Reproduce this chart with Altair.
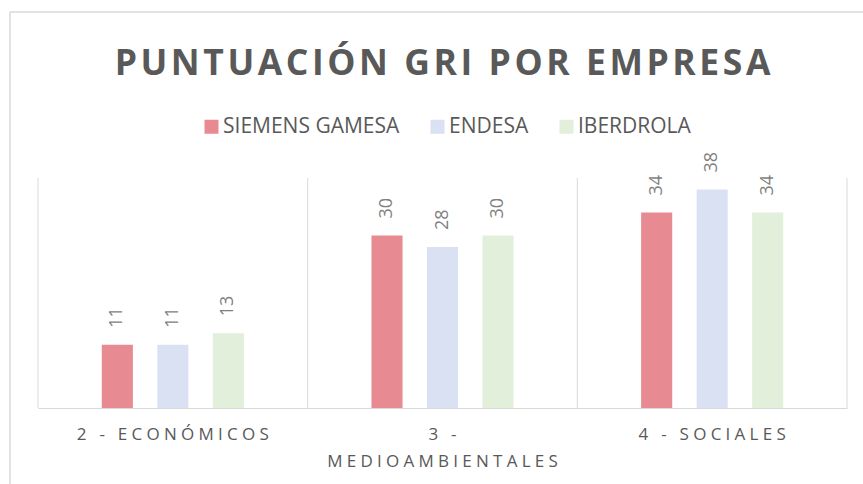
import altair as alt
import pandas as pd

categories = ["2 - ECONÓMICOS", "3 - MEDIOAMBIENTALES", "4 - SOCIALES"]
companies = ["SIEMENS GAMESA", "ENDESA", "IBERDROLA"]
siemens_gamesa = [11, 30, 34]
endesa = [11, 28, 38]
iberdrola = [13, 30, 34]
colors = ["#E88A91", "#D9E1F2", "#E2EFDA"]
title_text = "PUNTUACIÓN GRI POR EMPRESA"

rows = []
for comp, vals in zip(companies, [siemens_gamesa, endesa, iberdrola]):
    for cat, v in zip(categories, vals):
        rows.append({"categoria": cat, "empresa": comp, "valor": v})
df = pd.DataFrame(rows)
cats_df = pd.DataFrame({"categoria": categories})
last_df = pd.DataFrame({"categoria": categories[-1:]})

FONT = "Open Sans"
GRID = "#D9D9D9"
TXT = "#595959"

# letter-spaced display of the title (hair spaces between letters)
title_spaced = "\u200a".join(title_text)

def sp(expr):
    return f"join(split({expr}, ''), '\u2005')"

label_expr = (
    f"length(datum.label) > 16 ? [{sp('slice(datum.label, 0, 3)')}, "
    f"{sp('slice(datum.label, 4)')}] : {sp('datum.label')}"
)

x_scale = alt.Scale(domain=categories, paddingInner=0, paddingOuter=0)
axis_def = alt.Axis(title=None, labelAngle=0, ticks=False, grid=False,
                    domainColor=GRID, domainWidth=1,
                    labelColor=TXT, labelFont=FONT, labelFontSize=17,
                    labelPadding=18, labelLineHeight=27, labelLimit=0,
                    labelExpr=label_expr)


def xenc(**kw):
    return alt.X("categoria:N", sort=categories, scale=x_scale, axis=axis_def, **kw)


xoff = alt.XOffset("empresa:N", sort=companies,
                   scale=alt.Scale(domain=companies, paddingInner=0.44, paddingOuter=0,
                                   range=[63.8, 205.9]))
y_enc = alt.Y("valor:Q", scale=alt.Scale(domain=[0, 40]), axis=None)

grid_start = alt.Chart(cats_df).mark_rule(color=GRID, strokeWidth=1).encode(
    x=xenc(bandPosition=0), y=alt.value(0), y2=alt.value(230),
)
grid_end = alt.Chart(last_df).mark_rule(color=GRID, strokeWidth=1).encode(
    x=xenc(bandPosition=1), y=alt.value(0), y2=alt.value(230),
)

bars = alt.Chart(df).mark_bar().encode(
    x=xenc(), xOffset=xoff, y=y_enc,
    color=alt.Color("empresa:N", sort=companies,
                    scale=alt.Scale(domain=companies, range=colors),
                    legend=alt.Legend(title=None, orient="none", legendX=163, legendY=-62,
                                      direction="horizontal", symbolType="square",
                                      symbolSize=196, symbolStrokeWidth=0,
                                      labelFont=FONT, labelFontSize=21, labelColor=TXT,
                                      labelLimit=0, labelOffset=1, columnPadding=27,
                                      padding=0)),
)

labels = alt.Chart(df).mark_text(angle=270, align="left", baseline="middle", dx=17,
                                 font=FONT, fontSize=18, color="#7F7F7F").encode(
    x=xenc(), xOffset=xoff, y=y_enc, text="valor:Q",
)

frame_left = alt.Chart(cats_df.head(1)).mark_rule(color=GRID, strokeWidth=1.5).encode(
    x=alt.value(-28), y=alt.value(-166), y2=alt.value(320))
frame_top = alt.Chart(cats_df.head(1)).mark_rule(color=GRID, strokeWidth=1.5).encode(
    x=alt.value(-28), x2=alt.value(840), y=alt.value(-166))

chart = alt.layer(grid_start, grid_end, bars, labels, frame_left, frame_top).properties(
    width=809, height=230,
    title=alt.TitleParams(title_spaced, font=FONT, fontSize=35.5, fontWeight="bold",
                          color=TXT, anchor="middle", offset=-71),
    autosize=alt.AutoSizeParams(type="none"),
    padding={"left": 38, "top": 178, "right": 16, "bottom": 76},
    background="white",
).configure_view(strokeWidth=0)

chart.save("out.html", embed_options={"renderer": "svg", "actions": False})
